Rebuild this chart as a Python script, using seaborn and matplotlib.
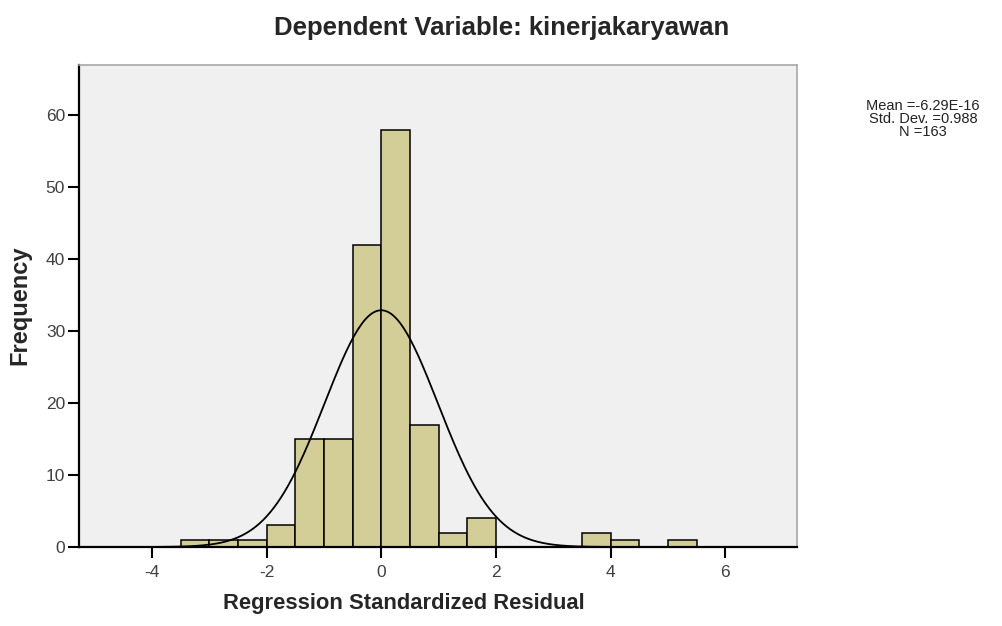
import numpy as np
import pandas as pd
import matplotlib
matplotlib.use("Agg")
import matplotlib.pyplot as plt
import seaborn as sns

# histogram of regression standardized residuals (SPSS style)
bin_left = [-3.5, -3.0, -2.5, -2.0, -1.5, -1.0, -0.5, 0.0, 0.5, 1.0, 1.5, 3.5, 4.0, 5.0]
counts = [1, 1, 1, 3, 15, 15, 42, 58, 17, 2, 4, 2, 1, 1]
bin_width = 0.5
mean_val = -6.29e-16
std_val = 0.988
n_obs = 163
stats_lines = ["Mean =-6.29E-16", "Std. Dev. =0.988", "N =163"]
x_ticks = [-4, -2, 0, 2, 4, 6]
y_ticks = [0, 10, 20, 30, 40, 50, 60]

df = pd.DataFrame({"resid": np.array(bin_left) + bin_width / 2, "count": counts})

# normal curve scaled to counts
xs = np.linspace(-5.2, 7.2, 400)
curve = pd.DataFrame({
    "x": xs,
    "y": n_obs * bin_width * np.exp(-0.5 * ((xs - mean_val) / std_val) ** 2) / (std_val * np.sqrt(2 * np.pi)),
})

sns.set_style("white")
plt.rcParams["font.family"] = ["Liberation Sans", "DejaVu Sans"]
plt.rcParams["axes.unicode_minus"] = False

fig = plt.figure(figsize=(10.02, 6.26), dpi=100)
ax = fig.add_axes([79 / 1002, 1 - 547 / 626, (797 - 79) / 1002, (547 - 65) / 626])
ax.set_facecolor("#f0f0f0")

sns.histplot(data=df, x="resid", weights="count", binwidth=bin_width, binrange=(-3.5, 5.5),
             color="#d3ce97", edgecolor="black", linewidth=1.1, alpha=1, ax=ax)
sns.lineplot(data=curve, x="x", y="y", color="black", linewidth=1.3, ax=ax)

ax.set_xlim(-5.27, 7.25)
ax.set_ylim(0, 67)
ax.set_xticks(x_ticks)
ax.set_yticks(y_ticks)
ax.tick_params(axis="both", direction="out", length=8, width=1.5, color="black",
               labelsize=12.5, labelcolor="#404040", bottom=True, left=True)
ax.tick_params(axis="x", pad=5)
ax.tick_params(axis="y", pad=2)

for s in ["left", "bottom"]:
    ax.spines[s].set_color("black")
    ax.spines[s].set_linewidth(1.6)
for s in ["top", "right"]:
    ax.spines[s].set_color("#a8a8a8")
    ax.spines[s].set_linewidth(1.2)

ax.set_xlabel("")
ax.set_ylabel("")
fig.text(404 / 1002, 1 - 603 / 626, "Regression Standardized Residual", ha="center", va="center",
         fontsize=15.8, fontweight="bold")
fig.text(20 / 1002, 1 - 305 / 626, "Frequency", ha="center", va="center", rotation=90,
         fontsize=17, fontweight="bold")
fig.text(502 / 1002, 1 - 28 / 626, "Dependent Variable: kinerjakaryawan", ha="center", va="center",
         fontsize=18.5, fontweight="bold")

fig.text(923 / 1002, 1 - 119 / 626, "\n".join(stats_lines), ha="center", va="center",
         fontsize=10.5, color="#222222", linespacing=0.95)

fig.savefig("out.png", dpi=100)
